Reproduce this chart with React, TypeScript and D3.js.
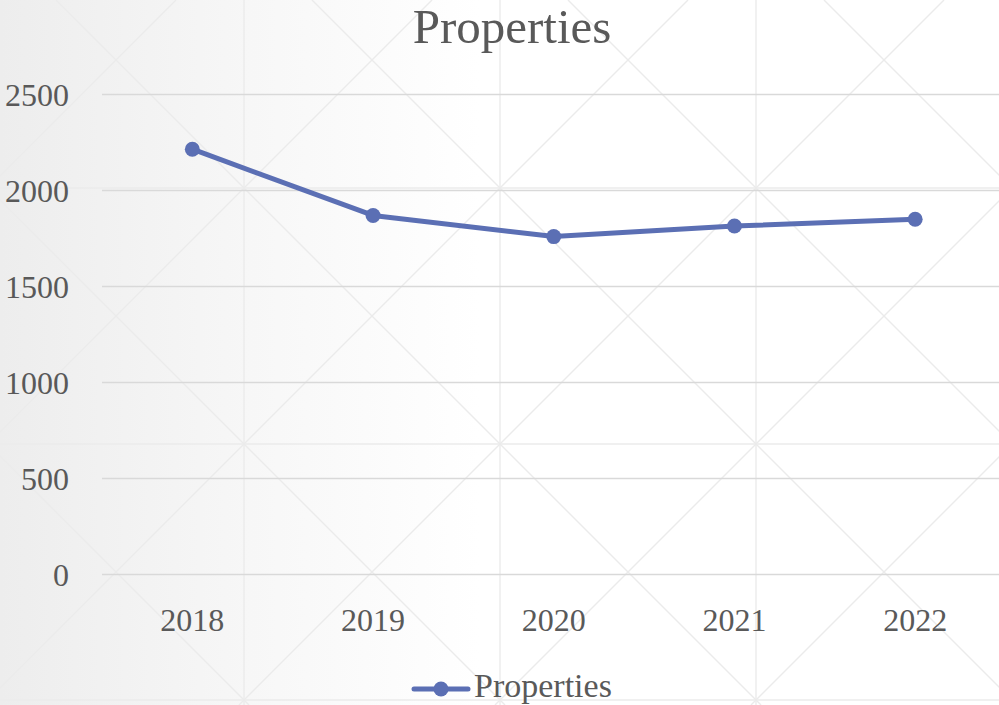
import React, { useEffect, useRef } from 'react';
import * as d3 from 'd3';

const W = 999;
const H = 705;

const years = ['2018', '2019', '2020', '2021', '2022'];
const properties = [2215, 1870, 1760, 1815, 1850];
const yTicks = [0, 500, 1000, 1500, 2000, 2500];
const title = 'Properties';
const seriesName = 'Properties';

const FONT = '"Liberation Serif", "Times New Roman", serif';
const TEXT = '#595959';
const LINE = '#5b6fb4';

export default function App() {
  const svgRef = useRef<SVGSVGElement>(null);

  useEffect(() => {
    if (!svgRef.current) return;
    const svg = d3.select(svgRef.current);
    svg.selectAll('*').remove();

    // background: soft gray-to-white wash
    const defs = svg.append('defs');
    const grad = defs.append('linearGradient').attr('id', 'bg').attr('x1', 0).attr('x2', 1).attr('y1', 0).attr('y2', 0);
    grad.append('stop').attr('offset', '0%').attr('stop-color', '#ededed');
    grad.append('stop').attr('offset', '25%').attr('stop-color', '#f7f7f7');
    grad.append('stop').attr('offset', '48%').attr('stop-color', '#ffffff');
    grad.append('stop').attr('offset', '100%').attr('stop-color', '#ffffff');
    svg.append('rect').attr('width', W).attr('height', H).attr('fill', 'url(#bg)');

    // decorative tile lines of the slide background
    const deco = svg.append('g').attr('stroke', '#ebebeb').attr('stroke-width', 1.4).attr('fill', 'none');
    const tile = 256;
    for (let x = 244 - tile; x < W + tile; x += tile) {
      deco.append('line').attr('x1', x).attr('x2', x).attr('y1', 0).attr('y2', H);
    }
    for (let y = 188 - tile; y < H + tile; y += tile) {
      deco.append('line').attr('x1', 0).attr('x2', W).attr('y1', y).attr('y2', y);
    }
    for (let k = -4 * tile + 56; k < W + H; k += tile) {
      // x - y = k
      deco.append('line').attr('x1', k).attr('y1', 0).attr('x2', k + H).attr('y2', H);
    }
    for (let k = 176 - tile; k < W + H + tile; k += tile) {
      // x + y = k
      deco.append('line').attr('x1', k).attr('y1', 0).attr('x2', k - H).attr('y2', H);
    }

    const plotLeft = 102;
    const step = 180.7;
    const x = d3.scaleBand().domain(years).range([plotLeft, plotLeft + step * years.length]).padding(0);
    const y = d3.scaleLinear().domain([0, 2500]).range([574.5, 94.5]);
    const cx = (d: string) => (x(d) as number) + x.bandwidth() / 2;

    // gridlines
    svg.append('g').selectAll('line').data(yTicks).join('line')
      .attr('x1', plotLeft).attr('x2', W)
      .attr('y1', d => y(d)).attr('y2', d => y(d))
      .attr('stroke', '#d9d9d9').attr('stroke-width', 1.5);

    // y labels
    svg.append('g').selectAll('text').data(yTicks).join('text')
      .attr('x', 69).attr('y', d => y(d) + 11)
      .attr('text-anchor', 'end')
      .attr('font-family', FONT).attr('font-size', 32).attr('fill', TEXT)
      .text(d => String(d));

    // x labels
    svg.append('g').selectAll('text').data(years).join('text')
      .attr('x', d => cx(d)).attr('y', 631)
      .attr('text-anchor', 'middle')
      .attr('font-family', FONT).attr('font-size', 32).attr('fill', TEXT)
      .text(d => d);

    // series
    const pts = years.map((yr, i) => ({ yr, v: properties[i] }));
    const line = d3.line<{ yr: string; v: number }>().x(d => cx(d.yr)).y(d => y(d.v));
    svg.append('path').datum(pts).attr('d', line)
      .attr('fill', 'none').attr('stroke', LINE).attr('stroke-width', 5)
      .attr('stroke-linejoin', 'round').attr('stroke-linecap', 'round');
    svg.append('g').selectAll('circle').data(pts).join('circle')
      .attr('cx', d => cx(d.yr)).attr('cy', d => y(d.v)).attr('r', 7.5)
      .attr('fill', LINE);

    // title
    svg.append('text').attr('x', 512).attr('y', 43)
      .attr('text-anchor', 'middle')
      .attr('font-family', FONT).attr('font-size', 49).attr('fill', TEXT)
      .text(title);

    // legend
    const lg = svg.append('g');
    lg.append('line').attr('x1', 414).attr('x2', 468).attr('y1', 689).attr('y2', 689)
      .attr('stroke', LINE).attr('stroke-width', 5).attr('stroke-linecap', 'round');
    lg.append('circle').attr('cx', 441).attr('cy', 689).attr('r', 7.5).attr('fill', LINE);
    lg.append('text').attr('x', 474).attr('y', 697)
      .attr('font-family', FONT).attr('font-size', 34).attr('fill', TEXT)
      .text(seriesName);
  }, []);

  return (
    <svg ref={svgRef} width={W} height={H}
      style={{ position: 'absolute', left: 0, top: 0, display: 'block' }} />
  );
}
